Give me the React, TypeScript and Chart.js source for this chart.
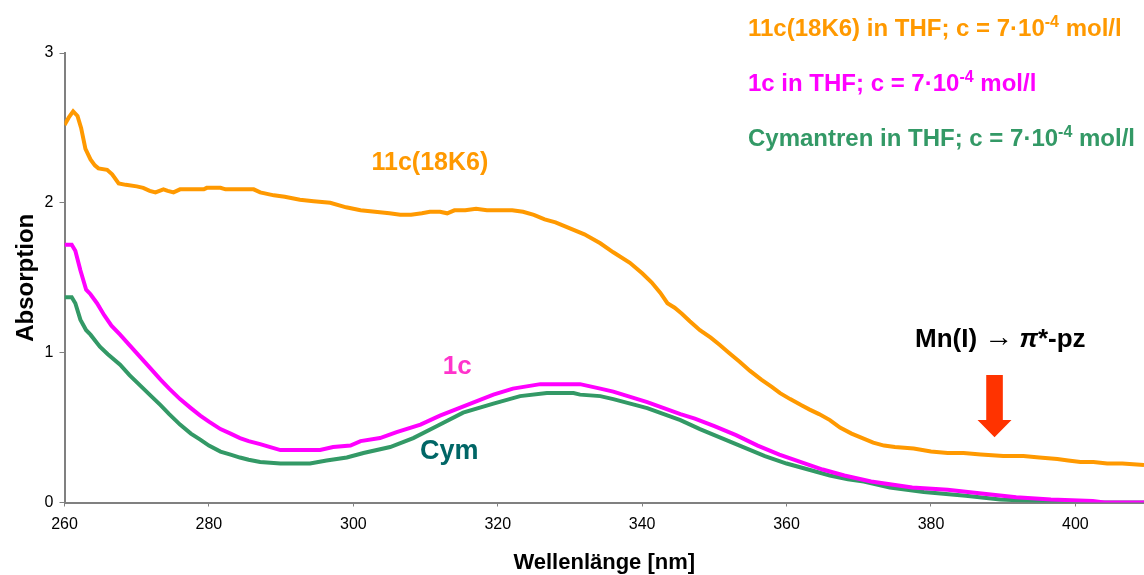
import React, { useEffect, useRef } from "react";
import { Chart, registerables } from "chart.js";

Chart.register(...registerables);

// ---- Data ----
const wl11c = [260.0, 260.6, 261.2, 261.8, 262.3, 262.9, 263.6, 264.2, 264.7, 265.9, 266.6, 267.5, 268.5, 270.0, 270.9, 271.8, 272.6, 273.7, 274.3, 275.1, 276.0, 279.3, 279.7, 281.6, 282.3, 286.2, 287.1, 289.0, 290.5, 292.6, 294.5, 296.8, 299.0, 301.0, 303.0, 305.0, 306.5, 308.0, 309.5, 310.6, 312.0, 313.0, 314.0, 315.5, 317.0, 318.5, 320.3, 322.0, 323.5, 325.0, 326.5, 328.0, 330.0, 332.0, 334.2, 336.0, 338.3, 340.0, 341.3, 342.5, 343.5, 344.5, 345.5, 346.6, 348.0, 349.5, 350.8, 352.0, 353.5, 354.9, 356.5, 358.0, 359.1, 360.5, 362.0, 363.2, 364.5, 366.0, 367.4, 369.0, 370.5, 372.0, 373.5, 375.0, 377.6, 380.0, 382.3, 384.5, 386.9, 390.0, 392.8, 395.0, 397.5, 399.0, 400.7, 402.5, 404.4, 406.5, 409.5];
const abs11c = [2.52, 2.57, 2.61, 2.58, 2.50, 2.36, 2.29, 2.25, 2.23, 2.22, 2.19, 2.13, 2.12, 2.11, 2.10, 2.08, 2.07, 2.09, 2.08, 2.07, 2.09, 2.09, 2.10, 2.10, 2.09, 2.09, 2.07, 2.05, 2.04, 2.02, 2.01, 2.00, 1.97, 1.95, 1.94, 1.93, 1.92, 1.92, 1.93, 1.94, 1.94, 1.93, 1.95, 1.95, 1.96, 1.95, 1.95, 1.95, 1.94, 1.92, 1.89, 1.87, 1.83, 1.79, 1.73, 1.67, 1.60, 1.53, 1.47, 1.40, 1.33, 1.30, 1.26, 1.21, 1.15, 1.10, 1.05, 1.00, 0.94, 0.88, 0.82, 0.77, 0.73, 0.69, 0.65, 0.62, 0.59, 0.55, 0.50, 0.46, 0.43, 0.40, 0.38, 0.37, 0.36, 0.34, 0.33, 0.33, 0.32, 0.31, 0.31, 0.30, 0.29, 0.28, 0.27, 0.27, 0.26, 0.26, 0.25];

const wl1c = [260.0, 261.0, 261.5, 262.2, 263.0, 263.6, 264.5, 265.5, 266.5, 267.7, 269.0, 270.5, 272.0, 273.3, 274.5, 276.0, 277.5, 278.8, 280.0, 281.6, 283.0, 284.3, 285.5, 287.1, 288.5, 289.9, 295.4, 297.2, 299.6, 301.0, 303.7, 306.0, 309.3, 312.0, 315.7, 319.4, 322.1, 325.9, 331.4, 334.2, 336.0, 340.7, 345.3, 347.3, 350.0, 353.0, 356.0, 359.0, 362.0, 365.0, 368.0, 371.7, 377.4, 382.3, 387.0, 391.8, 396.6, 402.4, 404.0, 409.5];
const abs1c = [1.72, 1.72, 1.68, 1.55, 1.42, 1.39, 1.33, 1.25, 1.18, 1.12, 1.05, 0.97, 0.89, 0.82, 0.76, 0.69, 0.63, 0.58, 0.54, 0.49, 0.46, 0.43, 0.41, 0.39, 0.37, 0.35, 0.35, 0.37, 0.38, 0.41, 0.43, 0.47, 0.52, 0.58, 0.65, 0.72, 0.76, 0.79, 0.79, 0.76, 0.74, 0.67, 0.59, 0.56, 0.51, 0.45, 0.38, 0.32, 0.27, 0.22, 0.18, 0.14, 0.10, 0.085, 0.06, 0.035, 0.02, 0.01, 0.0, 0.0];

const wlCym = [260.0, 261.0, 261.5, 262.2, 263.0, 263.6, 264.9, 266.0, 267.7, 269.0, 270.5, 272.0, 273.3, 274.5, 276.0, 277.5, 278.8, 280.0, 281.6, 283.0, 284.3, 285.5, 287.1, 289.9, 294.0, 296.3, 299.1, 301.4, 305.1, 308.3, 311.6, 315.2, 319.4, 323.1, 326.8, 330.5, 331.4, 334.2, 336.0, 340.7, 345.3, 348.0, 351.0, 354.0, 357.0, 360.0, 363.0, 366.0, 368.5, 370.7, 374.3, 379.0, 384.8, 389.6, 394.5, 397.0, 409.5];
const absCym = [1.37, 1.37, 1.33, 1.22, 1.15, 1.12, 1.04, 0.99, 0.92, 0.85, 0.78, 0.71, 0.65, 0.59, 0.52, 0.46, 0.42, 0.38, 0.34, 0.32, 0.30, 0.285, 0.27, 0.26, 0.26, 0.28, 0.30, 0.33, 0.37, 0.43, 0.51, 0.60, 0.66, 0.71, 0.73, 0.73, 0.72, 0.71, 0.69, 0.63, 0.55, 0.49, 0.43, 0.37, 0.31, 0.26, 0.22, 0.18, 0.155, 0.14, 0.10, 0.07, 0.045, 0.02, 0.01, 0.0, 0.0];

const xTickValues = [260, 280, 300, 320, 340, 360, 380, 400];
const yTickValues = [0, 1, 2, 3];

const legendNames = ["11c(18K6)", "1c", "Cymantren"];
const legendColors = ["#FF9900", "#FF00FF", "#339966"];
const seriesColors = ["#FF9900", "#FF00FF", "#339966"];

const xTitle = "Wellenlänge [nm]";
const yTitle = "Absorption";

const FAMILY = '"Liberation Sans", Arial, Helvetica, sans-serif';

const pts = (xs: number[], ys: number[]) => xs.map((x, i) => ({ x, y: ys[i] }));

function drawParts(ctx: CanvasRenderingContext2D, x: number, base: number, parts: { t: string; font: string; dy?: number }[]) {
  let cx = x;
  for (const p of parts) {
    ctx.font = p.font;
    ctx.fillText(p.t, cx, base + (p.dy || 0));
    cx += ctx.measureText(p.t).width;
  }
}

const annotPlugin = {
  id: "annot",
  afterDraw(chart: any) {
    const { ctx } = chart;
    const xs = chart.scales.x;
    const ys = chart.scales.y;
    ctx.save();
    ctx.textAlign = "center";
    ctx.textBaseline = "middle";
    // curve labels
    ctx.fillStyle = "#FF9900";
    ctx.font = `bold 25px ${FAMILY}`;
    ctx.fillText("11c(18K6)", xs.getPixelForValue(310.6), ys.getPixelForValue(2.266));
    ctx.fillStyle = "#FF33CC";
    ctx.font = `bold 26px ${FAMILY}`;
    ctx.fillText("1c", xs.getPixelForValue(314.4), ys.getPixelForValue(0.905));
    ctx.fillStyle = "#006666";
    ctx.font = `bold 27px ${FAMILY}`;
    ctx.fillText("Cym", xs.getPixelForValue(313.3), ys.getPixelForValue(0.337));

    // legend (top right)
    ctx.textAlign = "left";
    ctx.textBaseline = "alphabetic";
    const lx = 748;
    const bases = [36, 91, 146];
    legendNames.forEach((name, i) => {
      ctx.fillStyle = legendColors[i];
      drawParts(ctx, lx, bases[i], [
        { t: `${name} in THF; c = 7·10`, font: `bold 24px ${FAMILY}` },
        { t: "-4", font: `bold 16px ${FAMILY}`, dy: -9 },
        { t: " mol/l", font: `bold 24px ${FAMILY}` },
      ]);
    });

    // Mn(I) -> pi* annotation
    ctx.fillStyle = "#000";
    drawParts(ctx, 915, 347, [
      { t: "Mn(I) ", font: `bold 26px ${FAMILY}` },
      { t: "→", font: `29px ${FAMILY}`, dy: -1 },
      { t: " ", font: `bold 22px ${FAMILY}` },
      { t: "π", font: `italic bold 26px ${FAMILY}` },
      { t: "*", font: `bold 26px ${FAMILY}` },
      { t: "-pz", font: `bold 26px ${FAMILY}` },
    ]);

    // red arrow
    const cx = xs.getPixelForValue(388.8);
    const tip = ys.getPixelForValue(0.435);
    const top = ys.getPixelForValue(0.851);
    const hb = ys.getPixelForValue(0.551);
    ctx.fillStyle = "#FF3300";
    ctx.beginPath();
    ctx.moveTo(cx - 8.3, top);
    ctx.lineTo(cx + 8.3, top);
    ctx.lineTo(cx + 8.3, hb);
    ctx.lineTo(cx + 17, hb);
    ctx.lineTo(cx, tip);
    ctx.lineTo(cx - 17, hb);
    ctx.lineTo(cx - 8.3, hb);
    ctx.closePath();
    ctx.fill();
    ctx.restore();
  },
};

export default function App() {
  const ref = useRef<HTMLCanvasElement | null>(null);
  useEffect(() => {
    if (!ref.current) return;
    const line = (data: any, color: string) => ({
      data,
      borderColor: color,
      backgroundColor: color,
      borderWidth: 4,
      pointRadius: 0,
      tension: 0,
      fill: false,
    });
    const chart = new Chart(ref.current, {
      type: "line",
      data: {
        datasets: [
          { label: legendNames[0], ...line(pts(wl11c, abs11c), seriesColors[0]) },
          { label: legendNames[1], ...line(pts(wl1c, abs1c), seriesColors[1]) },
          { label: legendNames[2], ...line(pts(wlCym, absCym), seriesColors[2]) },
        ],
      },
      options: {
        animation: false,
        responsive: false,
        devicePixelRatio: 1,
        layout: { padding: { top: 53, right: 0, bottom: 0, left: 0 } },
        plugins: { legend: { display: false }, tooltip: { enabled: false } },
        scales: {
          x: {
            type: "linear",
            min: 260,
            max: 409.5,
            afterBuildTicks: (s: any) => {
              s.ticks = xTickValues.map((v) => ({ value: v }));
            },
            afterFit: (s: any) => {
              s.height = 72.5;
            },
            ticks: {
              autoSkip: false,
              maxRotation: 0,
              padding: 8,
              color: "#000",
              font: { family: FAMILY, size: 16 },
            },
            grid: { display: true, drawOnChartArea: false, drawTicks: true, tickLength: 4, color: "#808080", lineWidth: 1 },
            border: { display: true, color: "#808080", width: 2 },
            title: {
              display: true,
              text: xTitle,
              color: "#000",
              font: { family: FAMILY, size: 22, weight: "bold" },
              padding: { top: 0, bottom: -1 },
            },
          },
          y: {
            type: "linear",
            min: 0,
            max: 3,
            afterBuildTicks: (s: any) => {
              s.ticks = yTickValues.map((v) => ({ value: v }));
            },
            afterFit: (s: any) => {
              s.width = 64.5;
            },
            ticks: {
              padding: 6,
              color: "#000",
              font: { family: FAMILY, size: 16 },
            },
            grid: { display: true, drawOnChartArea: false, drawTicks: true, tickLength: 5, color: "#808080", lineWidth: 1 },
            border: { display: true, color: "#808080", width: 2 },
            title: {
              display: true,
              text: yTitle,
              color: "#000",
              font: { family: FAMILY, size: 24, weight: "bold" },
              padding: { top: 12, bottom: 0 },
            },
          },
        },
      },
      plugins: [annotPlugin],
    } as any);
    return () => chart.destroy();
  }, []);
  return (
    <div style={{ position: "fixed", left: 0, top: 0, width: 1144, height: 575, background: "#fff" }}>
      <canvas ref={ref} width={1144} height={575} style={{ display: "block", width: 1144, height: 575 }} />
    </div>
  );
}
